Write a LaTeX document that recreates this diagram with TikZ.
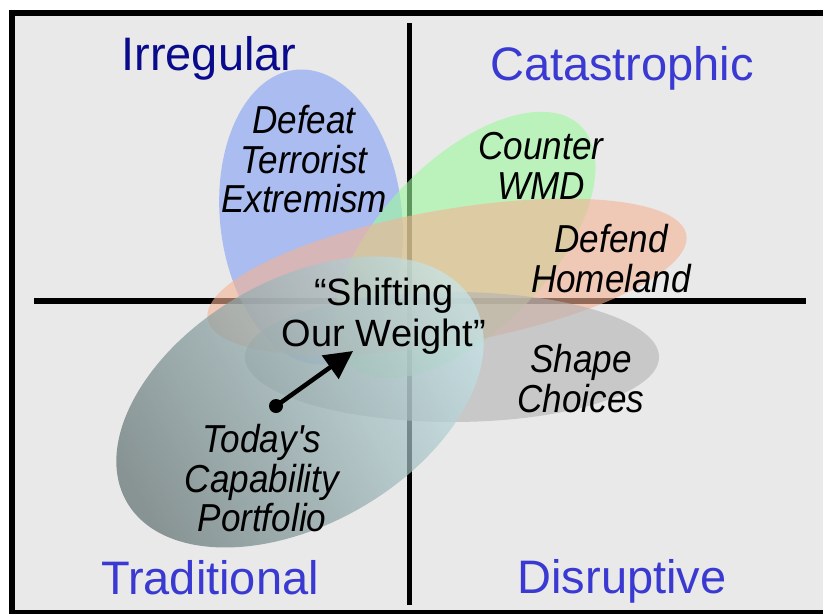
\documentclass[tikz,border=0pt]{standalone}
\usepackage{fontspec}
\setmainfont{Liberation Sans}
\newfontfamily\narrowfont{Liberation Sans}[FakeStretch=0.9]
\usetikzlibrary{arrows.meta}
\definecolor{bgray}{RGB}{233,233,233}
\definecolor{qnavy}{RGB}{10,10,140}
\definecolor{qblue}{RGB}{58,58,210}
\definecolor{eblue}{RGB}{128,158,245}
\definecolor{egreen}{RGB}{157,248,157}
\definecolor{ered}{RGB}{245,178,148}
\definecolor{egray}{RGB}{178,178,178}
\definecolor{tdark}{RGB}{95,112,112}
\definecolor{tlight}{RGB}{197,230,235}
\tikzset{
  quad/.style={anchor=base, inner sep=0pt, font=\fontsize{47}{47}\selectfont},
  goal/.style={anchor=base, inner sep=0pt, align=center, font=\narrowfont\fontsize{39}{39.5}\selectfont\itshape},
  shiftlabel/.style={anchor=base, inner sep=0pt, align=center, font=\fontsize{38}{41}\selectfont},
  blob/.style={fill opacity=0.6},
  axisline/.style={line width=5.5pt, black},
}
\begin{document}
\begin{tikzpicture}[x=1pt,y=-1pt]
\useasboundingbox (0,0) rectangle (823,614);
\fill[white] (0,0) rectangle (823,614);
\fill[bgray] (12,13) rectangle (830,612);
% frame
\draw[line width=6pt] (12,13) -- (830,13);
\draw[line width=6pt] (12,10) -- (12,614);
\draw[line width=4pt] (12,612) -- (830,612);
% axes
\coordinate (vtop) at (409.5,23);
\coordinate (vbot) at (409.5,605);
\coordinate (hl) at (34,301);
\coordinate (hr) at (806,301);
\draw[axisline] (vtop) -- (vbot);
\draw[axisline] (hl) -- (hr);
% ellipses
\fill[eblue, blob, rotate around={6:(311,217)}] (311,217) ellipse [x radius=91, y radius=148];
\fill[egreen, blob, rotate around={46:(465,245)}] (465,245) ellipse [x radius=166, y radius=85];
\fill[ered, blob, rotate around={10:(447,277)}] (447,277) ellipse [x radius=243, y radius=67];
\fill[egray, blob] (452,357) ellipse [x radius=207, y radius=65];
\shade[fill opacity=0.7, bottom color=tdark, top color=tlight, shading angle=-60, rotate around={30:(300,402)}] (300,402) ellipse [x radius=200, y radius=122];
% quadrant labels
\node[quad, text=qnavy] (irr) at (209,70) {Irregular};
\node[quad, text=qblue] (cat) at (622,80) {Catastrophic};
\node[quad, text=qblue] (trad) at (210,594) {Traditional};
\node[quad, text=qblue] (dis) at (622,593) {Disruptive};
% goal labels (base = last line baseline)
\node[goal] (dte) at (304,212.7) {Defeat\\Terrorist\\Extremism};
\node[goal] (cwmd) at (541,199) {Counter\\WMD};
\node[goal] (dh) at (611,292) {Defend\\Homeland};
\node[goal] (sc) at (581,412) {Shape\\Choices};
\node[goal] (tcp) at (262,531.7) {Today's\\Capability\\Portfolio};
\node[shiftlabel] (sow) at (384,346) {“Shifting\\Our Weight”};
% arrow
\coordinate (dot) at (276,406);
\coordinate (tip) at (353,351);
\fill (dot) circle (7);
\draw[line width=4.5pt, -{Triangle[length=28pt,width=28pt]}] (dot) -- (tip);
\end{tikzpicture}
\end{document}
